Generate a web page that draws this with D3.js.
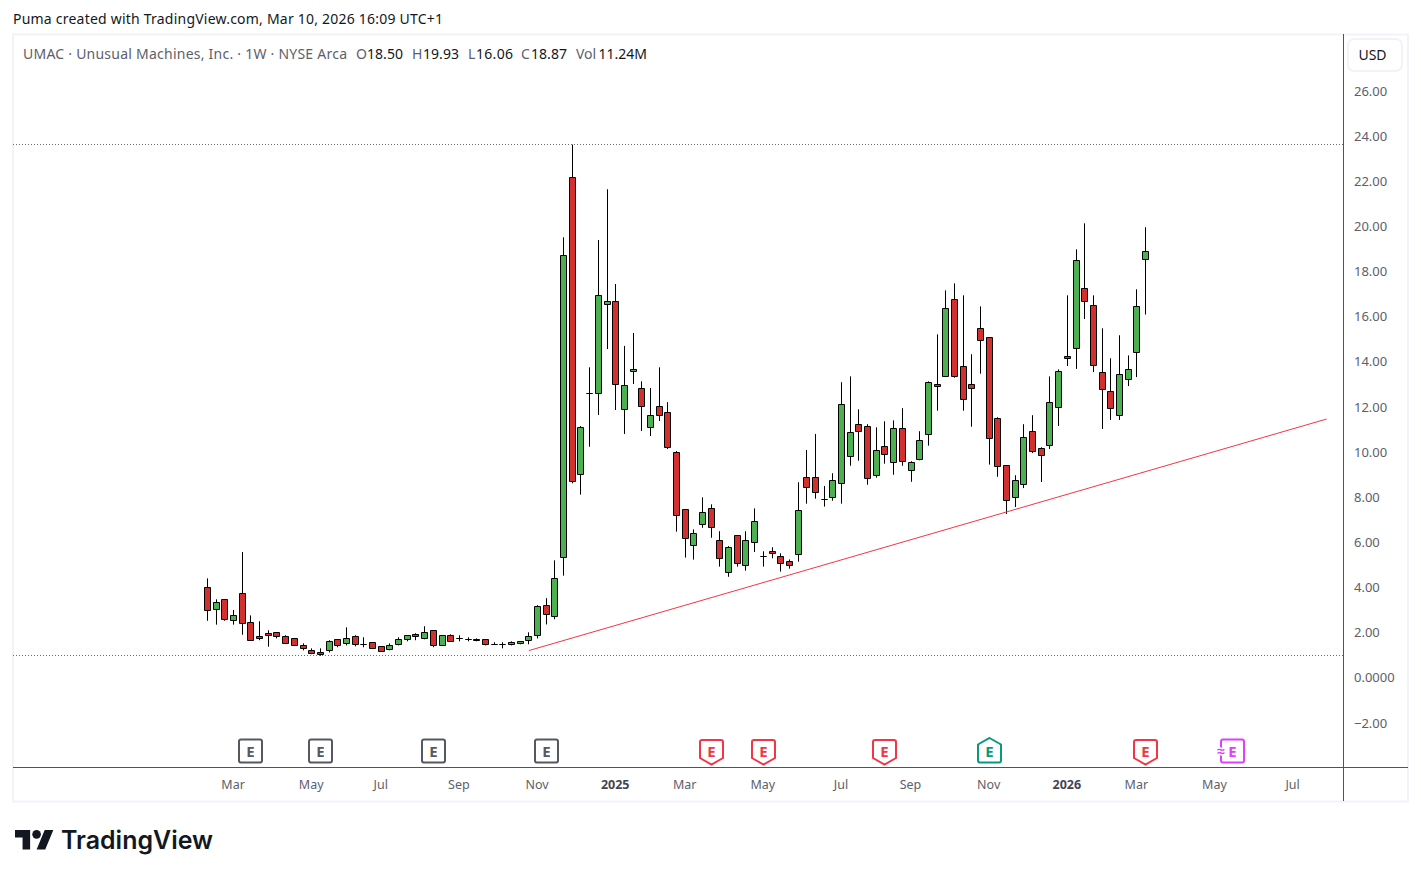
<!DOCTYPE html>
<html>
<head>
<meta charset="utf-8">
<title>UMAC weekly candles</title>
<script src="https://cdn.jsdelivr.net/npm/d3@7"></script>
<style>
  html, body { margin: 0; padding: 0; background: #fff; }
  svg { display: block; }
  text { font-family: "Noto Sans", sans-serif; }
</style>
</head>
<body>
<svg id="chart" width="1421" height="877"></svg>
<script>
// Weekly OHLC for UMAC, oldest bar first. One bar per week from firstWeek onward.
const firstWeek = "2024-02-12";
const opens = [
  3.97,3.00,3.44,2.51,3.71,2.42,1.80,1.94,1.98,1.79,
  1.71,1.40,1.18,1.09,1.18,1.67,1.49,1.80,1.45,1.54,
  1.36,1.23,1.45,1.67,1.89,1.71,2.07,1.40,1.85,1.71,
  1.67,1.67,1.67,1.45,1.45,1.45,1.49,1.63,1.85,3.18,
  2.69,5.30,22.14,8.98,12.57,12.57,16.51,16.65,11.86,13.54,
  12.79,11.06,11.99,11.73,9.96,7.43,5.84,6.77,7.47,6.06,
  4.64,6.28,4.95,5.97,5.35,5.57,5.35,5.13,5.44,8.85,
  8.85,7.87,7.96,8.58,9.78,11.20,11.11,8.94,10.22,9.51,
  11.02,9.16,9.65,10.75,12.97,13.32,16.73,13.77,12.97,15.45,
  15.05,11.46,9.38,7.96,8.54,10.89,10.13,10.27,11.95,14.21,
  14.56,17.22,16.47,13.50,12.66,11.60,13.19,14.39,18.50
];
const closes = [
  2.96,3.31,2.56,2.73,2.38,1.63,1.71,1.85,1.80,1.49,
  1.40,1.27,1.05,1.01,1.58,1.40,1.71,1.45,1.45,1.27,
  1.14,1.40,1.67,1.85,1.80,1.98,1.40,1.85,1.58,1.71,
  1.67,1.63,1.45,1.45,1.45,1.54,1.58,1.80,3.13,2.78,
  4.37,18.68,8.67,11.06,12.57,16.91,16.65,12.97,12.92,13.63,
  11.99,11.60,11.60,10.18,7.16,6.15,6.37,7.30,6.63,5.26,
  5.75,5.04,6.06,6.90,5.35,5.48,5.04,4.95,7.39,8.41,
  8.18,7.87,8.72,12.08,10.84,10.89,8.80,10.04,9.87,11.02,
  9.56,9.51,10.49,13.06,12.88,16.34,13.32,12.30,12.79,14.92,
  10.58,9.34,7.83,8.72,10.62,10.00,9.82,12.17,13.54,14.12,
  18.46,16.65,13.81,12.75,11.91,13.41,13.63,16.42,18.87
];
const highs = [
  4.37,3.44,3.44,2.97,5.54,2.73,2.47,2.07,1.98,1.85,
  1.71,1.49,1.27,1.27,1.63,1.67,2.20,1.85,1.76,1.54,
  1.36,1.49,1.76,1.85,1.94,2.25,2.07,1.85,1.89,1.85,
  1.76,1.71,1.67,1.54,1.54,1.58,1.58,1.98,3.18,3.49,
  5.17,19.48,23.59,11.12,13.72,19.36,21.61,17.41,14.67,15.24,
  13.10,12.80,13.72,12.18,10.01,7.43,6.54,7.96,7.65,6.46,
  5.80,6.28,6.46,7.47,5.57,5.75,5.48,5.21,8.63,10.06,
  10.77,8.46,9.03,13.06,13.32,11.86,11.20,11.06,11.33,11.37,
  11.91,9.56,10.89,13.10,15.18,17.13,17.44,16.91,14.30,16.42,
  15.05,11.51,9.38,8.94,11.20,11.60,10.18,13.32,13.63,16.91,
  18.95,20.10,16.91,15.45,14.12,15.14,14.25,17.18,19.93
];
const lows = [
  2.49,2.32,2.49,2.32,1.87,1.63,1.63,1.34,1.71,1.49,
  1.40,1.18,1.01,0.94,1.09,1.32,1.40,1.36,1.32,1.27,
  1.14,1.18,1.40,1.58,1.63,1.67,1.32,1.40,1.58,1.58,
  1.58,1.58,1.40,1.45,1.27,1.40,1.45,1.45,1.71,2.33,
  2.56,4.49,8.58,8.08,10.20,11.61,14.53,11.83,10.77,12.98,
  10.90,10.68,11.34,10.10,6.44,5.29,5.20,6.61,6.17,4.89,
  4.44,4.89,4.71,5.54,4.89,5.26,4.67,4.80,5.11,7.68,
  7.90,7.55,7.81,7.68,9.36,9.58,8.52,8.83,9.45,8.96,
  9.36,8.65,9.60,10.25,11.80,13.32,13.26,11.80,11.09,13.44,
  9.41,8.87,7.22,7.53,8.37,9.92,8.64,10.10,11.12,13.78,
  13.65,15.86,13.51,10.99,11.39,11.39,12.89,13.29,16.06
];

// Axis ticks
const priceTicks = [26,24,22,20,18,16,14,12,10,8,6,4,2,0,-2];
const priceLabels = ["26.00","24.00","22.00","20.00","18.00","16.00","14.00","12.00","10.00","8.00","6.00","4.00","2.00","0.0000","\u22122.00"];
const timeTicks = ["2024-03-04","2024-05-06","2024-07-01","2024-09-02","2024-11-04","2025-01-06","2025-03-03","2025-05-05","2025-07-07","2025-09-01","2025-11-03","2026-01-05","2026-03-02","2026-05-04","2026-07-06"];
const timeLabels = ["Mar","May","Jul","Sep","Nov","2025","Mar","May","Jul","Sep","Nov","2026","Mar","May","Jul"];

// Earnings markers: date and kind (past, miss, beat, upcoming)
const earningsDates = ["2024-03-18","2024-05-13","2024-08-12","2024-11-11","2025-03-24","2025-05-05","2025-08-11","2025-11-03","2026-03-09","2026-05-18"];
const earningsKinds = ["past","past","past","past","miss","miss","miss","beat","miss","next"];

// Drawn rising trendline, as date and price anchors
const trendDates = ["2024-10-28","2026-08-02"];
const trendPrices = [1.17,11.43];

const parse = d3.utcParse("%Y-%m-%d");
const bars = opens.map((o, i) => ({
  date: d3.utcWeek.offset(parse(firstWeek), i),
  open: o, high: highs[i], low: lows[i], close: closes[i]
}));

const x = d3.scaleUtc()
  .domain([parse(firstWeek), bars[bars.length - 1].date])
  .range([207.5, 1145.5]);
const y = d3.scaleLinear().domain([-2, 26]).range([722.14, 90.18]);

const px = v => Math.floor(v) + 0.5;
const svg = d3.select("#chart");

const frameColor = "#f0f3fa", ruleColor = "#50535e", labelColor = "#5d606b", darkText = "#131722";
const upColor = "#4caf50", downColor = "#d32f2f";

// Chart frame and axis rules
svg.append("rect").attr("x", 13).attr("y", 34.5).attr("width", 1395).attr("height", 767)
  .attr("fill", "#fff").attr("stroke", frameColor).attr("stroke-width", 2);
svg.append("line").attr("x1", 13).attr("x2", 1408).attr("y1", 767.5).attr("y2", 767.5).attr("stroke", ruleColor);
svg.append("line").attr("x1", 1343.5).attr("x2", 1343.5).attr("y1", 34).attr("y2", 801).attr("stroke", ruleColor);

// Highest and lowest price levels
[d3.max(highs), d3.min(lows)].forEach(v => {
  svg.append("line").attr("x1", 13).attr("x2", 1343)
    .attr("y1", px(y(v))).attr("y2", px(y(v)))
    .attr("stroke", "#6a6d78").attr("stroke-dasharray", "1 2");
});

// Candles
const candle = svg.append("g").selectAll("g").data(bars).join("g");
candle.append("line")
  .attr("x1", d => px(x(d.date))).attr("x2", d => px(x(d.date)))
  .attr("y1", d => y(d.high)).attr("y2", d => y(d.low))
  .attr("stroke", "#000");
candle.append("path")
  .attr("d", d => {
    const cx = px(x(d.date));
    const t = px(y(Math.max(d.open, d.close))), b = px(y(Math.min(d.open, d.close)));
    return `M${cx - 3} ${t}H${cx + 3}V${b}H${cx - 3}Z`;
  })
  .attr("fill", d => d.close >= d.open ? upColor : downColor)
  .attr("stroke", "#000");

// Trendline
svg.append("line")
  .attr("x1", x(parse(trendDates[0]))).attr("y1", y(trendPrices[0]))
  .attr("x2", x(parse(trendDates[1]))).attr("y2", y(trendPrices[1]))
  .attr("stroke", "#f23645").attr("stroke-width", 1);

// Price axis
const yAxis = svg.append("g").attr("transform", "translate(1344,0.7)")
  .call(d3.axisRight(y).tickValues(priceTicks).tickSize(0).tickPadding(10)
    .tickFormat((d, i) => priceLabels[i]));
yAxis.select(".domain").remove();
yAxis.selectAll("text").attr("font-family", "'Noto Sans', sans-serif").attr("font-size", 13).attr("fill", labelColor);

// Time axis
const xAxis = svg.append("g").attr("transform", "translate(-1,767)")
  .call(d3.axisBottom(x).tickValues(timeTicks.map(parse)).tickSize(0).tickPadding(13)
    .tickFormat((d, i) => timeLabels[i]));
xAxis.select(".domain").remove();
xAxis.selectAll("text")
  .attr("font-family", "'Noto Sans', sans-serif").attr("font-size", 12.5)
  .attr("fill", (d, i) => /^\d/.test(timeLabels[i]) ? "#43464f" : labelColor)
  .attr("font-weight", (d, i) => /^\d/.test(timeLabels[i]) ? 700 : 400);

// Earnings badges
const badgeColors = { past: "#555861", miss: "#f23645", beat: "#089981", next: "#e040fb" };
const badgeShapes = {
  past: "M-9.5 -11.5H9.5Q11.5 -11.5 11.5 -9.5V9.5Q11.5 11.5 9.5 11.5H-9.5Q-11.5 11.5 -11.5 9.5V-9.5Q-11.5 -11.5 -9.5 -11.5Z",
  miss: "M-9.5 -11H9.5Q11.5 -11 11.5 -9V7L0 13.5L-11.5 7V-9Q-11.5 -11 -9.5 -11Z",
  beat: "M0 -13L11.5 -6.5V9.5Q11.5 11.5 9.5 11.5H-9.5Q-11.5 11.5 -11.5 9.5V-6.5Z",
  next: "M-9.5 -11.5H9.5Q11.5 -11.5 11.5 -9.5V9.5Q11.5 11.5 9.5 11.5H-9.5Q-11.5 11.5 -11.5 9.5V-9.5Q-11.5 -11.5 -9.5 -11.5Z"
};
const badge = svg.append("g").selectAll("g").data(earningsDates).join("g")
  .attr("transform", d => `translate(${px(x(parse(d)))},751)`);
badge.append("path")
  .attr("d", (d, i) => badgeShapes[earningsKinds[i]])
  .attr("fill", "#fff")
  .attr("stroke", (d, i) => badgeColors[earningsKinds[i]])
  .attr("stroke-width", 2);
badge.append("text").text("E")
  .attr("text-anchor", "middle").attr("y", 5.5).attr("font-size", 15).attr("font-weight", 700)
  .attr("fill", (d, i) => badgeColors[earningsKinds[i]]);
badge.filter((d, i) => earningsKinds[i] === "next").append("text").text("\u2248")
  .attr("text-anchor", "middle").attr("x", -11.5).attr("y", 5).attr("font-size", 14).attr("font-weight", 700)
  .attr("stroke", "#fff").attr("stroke-width", 3).attr("paint-order", "stroke")
  .attr("fill", badgeColors.next);

// Currency button
svg.append("rect").attr("x", 1348).attr("y", 39).attr("width", 54).attr("height", 32).attr("rx", 6)
  .attr("fill", "#fff").attr("stroke", frameColor).attr("stroke-width", 2);
svg.append("text").text("USD").attr("x", 1372.5).attr("y", 60).attr("text-anchor", "middle")
  .attr("font-size", 14).attr("fill", darkText);

// Byline
svg.append("text").text("Puma created with TradingView.com, Mar 10, 2026 16:09 UTC+1")
  .attr("x", 13).attr("y", 24).attr("font-size", 14).attr("textLength", 430).attr("fill", darkText);

// Legend row: instrument title followed by the last bar's values
svg.append("text").text("UMAC \u00b7 Unusual Machines, Inc. \u00b7 1W \u00b7 NYSE Arca")
  .attr("x", 23).attr("y", 59).attr("font-size", 14).attr("textLength", 324).attr("fill", labelColor);
const legendKeys = ["O", "H", "L", "C", "Vol"];
const legendVals = ["18.50", "19.93", "16.06", "18.87", "11.24M"];
const legendKeyX = [356, 412, 468, 521, 576];
const legendValX = [367, 423, 476, 531, 598.5];
const legendValW = [36, 36, 37, 36, 48.5];
legendKeys.forEach((k, i) => {
  svg.append("text").text(k).attr("x", legendKeyX[i]).attr("y", 59).attr("font-size", 14).attr("fill", labelColor);
  svg.append("text").text(legendVals[i]).attr("x", legendValX[i]).attr("y", 59)
    .attr("font-size", 14).attr("textLength", legendValW[i]).attr("fill", darkText);
});

// Wordmark
const mark = svg.append("g").attr("transform", "translate(15,825.7) scale(1.08)").attr("fill", "#131722");
mark.append("path").attr("d", "M14 22H7V11H0V4h14v18zM28 22h-8l7.5-18h8L28 22z");
mark.append("circle").attr("cx", 20).attr("cy", 8).attr("r", 4);
svg.append("text").text("TradingView").attr("x", 61).attr("y", 848.5)
  .attr("textLength", 152).attr("lengthAdjust", "spacingAndGlyphs")
  .attr("font-size", 25).attr("font-weight", 600).attr("fill", "#131722")
  .style("font-family", "Inter, sans-serif");
</script>
</body>
</html>
